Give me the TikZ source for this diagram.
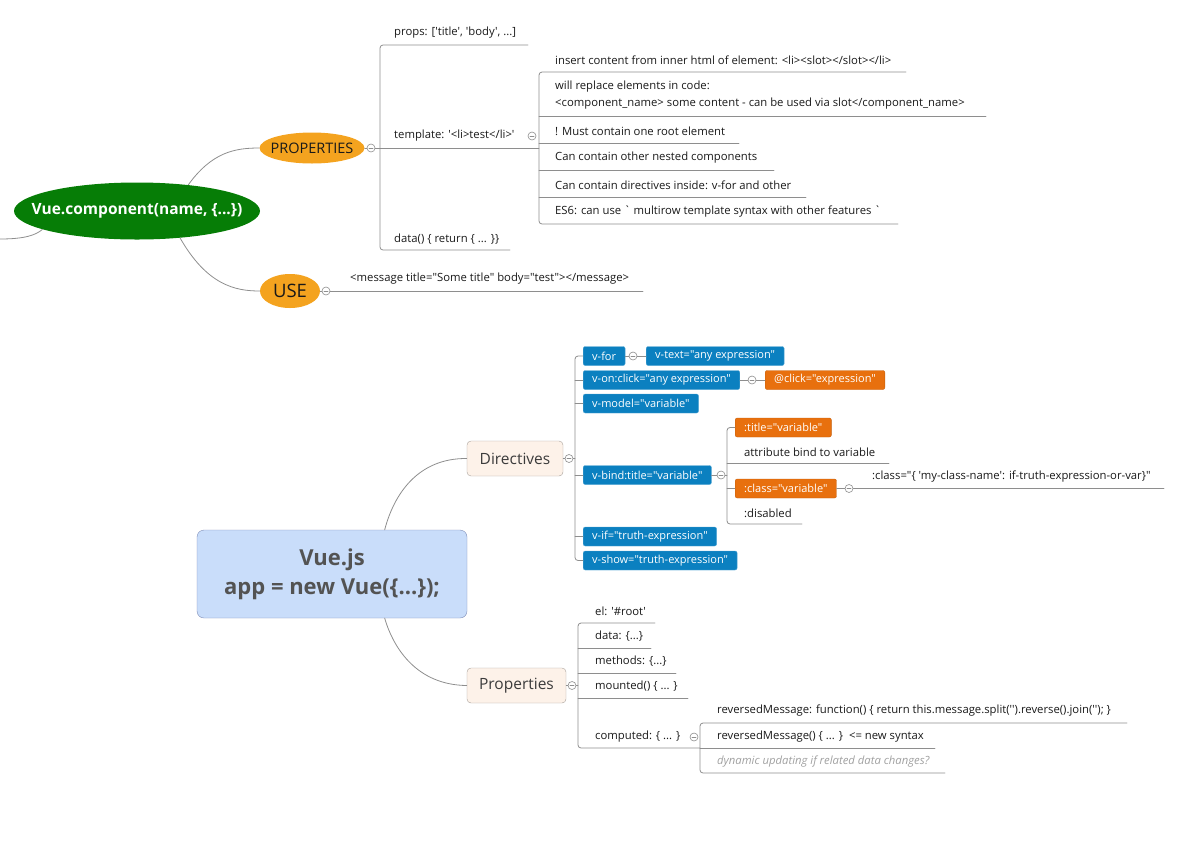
\documentclass[tikz,border=0pt]{standalone}
\usepackage{fontspec}
\setmainfont{Open Sans}[Ligatures=TeXOff]
\usetikzlibrary{shapes.geometric}
\definecolor{vgreen}{RGB}{6,125,6}
\definecolor{vorange}{RGB}{244,163,31}
\definecolor{vblue}{RGB}{11,128,192}
\definecolor{vred}{RGB}{232,112,14}
\definecolor{appfill}{RGB}{201,221,250}
\definecolor{appline}{RGB}{125,139,181}
\definecolor{peach}{RGB}{253,242,233}
\definecolor{peachline}{RGB}{167,160,154}
\definecolor{wire}{RGB}{142,142,142}
\definecolor{ink}{RGB}{25,25,25}
\definecolor{hint}{RGB}{160,160,160}
\tikzset{
  branch/.style={draw=wire,line width=0.8pt},
  fold/.style={circle,draw=wire,fill=white,inner sep=0pt,minimum size=8pt,line width=0.6pt,
    path picture={\draw[wire,line width=0.6pt] ([xshift=-2pt]path picture bounding box.center) -- ([xshift=2pt]path picture bounding box.center);}},
  topic/.style={anchor=west,inner sep=0pt,text=ink,font=\fontsize{11.3}{17}\selectfont},
  oval/.style={ellipse,fill=vorange,inner sep=0pt,text=ink},
  vdir/.style={anchor=west,draw=vblue!70!white,fill=vblue,text=white,rounded corners=2pt,
    minimum height=19pt,inner xsep=9pt,inner ysep=0pt,font=\fontsize{11}{12}\selectfont},
  vshort/.style={vdir,draw=vred!85!black,fill=vred},
  group/.style={draw=peachline,fill=peach,rounded corners=4pt,minimum height=35pt,
    text=ink!85,font=\fontsize{15.5}{18}\selectfont}
}
\newcommand\nowidth[1]{\makebox[0pt]{#1}}
\begin{document}
\begin{tikzpicture}[x=1pt,y=-1pt,line cap=round]
\useasboundingbox (0,0) rectangle (1177,852);
% Vue.component branch
\node[ellipse,fill=vgreen,text=white,inner sep=0pt,minimum width=246pt,minimum height=57pt,
  font=\bfseries\fontsize{15.5}{18}\selectfont] (comp) at (137,211) {\nowidth{Vue.component(name, \{...\})}};
\node[oval,minimum width=105pt,minimum height=31pt,font=\fontsize{14.5}{17}\selectfont] (props) at (312,148) {\nowidth{PROPERTIES}};
\node[oval,minimum width=60pt,minimum height=34pt,font=\fontsize{18.5}{21}\selectfont] (use) at (290,291) {\nowidth{USE}};
\coordinate (off) at (0,239);
\draw[branch] (off) .. controls (25,239) and (36,235) .. (comp.191);
\draw[branch] (comp.27) .. controls (212,152) and (235,148) .. (props.west);
\draw[branch] (comp.-32) .. controls (207,285) and (235,291) .. (use.west);

\node[topic] (pp) at (394,33) {props: ['title', 'body', ...]};
\node[topic] (tpl) at (394,136) {template: '<li>test</li>'};
\node[topic] (dat) at (394,239) {data() \{ return \{ ... \}\}};
\draw[branch,rounded corners=3pt] (528,45) -- (380,45) -- (380,250) -- (510,250);
\draw[branch] (props.east) -- (539,148);

\node[topic] (t1) at (555,60) {insert content from inner html of element: <li><slot></slot></li>};
\node[topic,align=left] (t2) at (555,95.5) {will replace elements in code:\\<component\_name> some content - can be used via slot</component\_name>};
\node[topic] (t3) at (555,131) {! Must contain one root element};
\node[topic] (t4) at (555,158) {Can contain other nested components};
\node[topic] (t5) at (555,185) {Can contain directives inside: v-for and other};
\node[topic] (t6) at (555,212) {ES6: can use ` multirow template syntax with other features `};
\draw[branch,rounded corners=3pt] (906,72) -- (539,72) -- (539,224) -- (898,224);
\foreach \y/\e in {116/986,143/739,170/774,197/806}
  \draw[branch] (539,\y) -- (\e,\y);

\node[topic] (msg) at (350,279) {<message title="Some title" body="test"></message>};
\draw[branch] (use.east) -- (643,291);
\node[fold] (f1) at (371,148) {};
\node[fold] (f2) at (532,136) {};
\node[fold] (f3) at (326,291) {};

% Vue.js app
\node[draw=appline,fill=appfill,rounded corners=7pt,minimum width=270pt,minimum height=88pt,
  align=center,text=ink!75,font=\bfseries\fontsize{22}{29}\selectfont] (app) at (332,574) {Vue.js\\app = new Vue(\{...\});};
\node[group,minimum width=96pt] (dirs) at (515,458.5) {\nowidth{Directives}};
\node[group,minimum width=99pt] (bprops) at (516.5,685.5) {\nowidth{Properties}};
\draw[branch] (app.40) .. controls (394,494) and (418,458) .. (dirs.west);
\draw[branch] (app.-40) .. controls (394,650) and (418,685) .. (bprops.west);

% directives
\coordinate (brx) at (575,0);
\node[vdir] (vfor) at (583,356) {v-for};
\node[vdir] (vtext) at (646,356) {v-text="any expression"};
\node[vdir] (von) at (583,380) {v-on:click="any expression"};
\node[vshort] (click) at (765,380) {@click="expression"};
\node[vdir] (vmodel) at (583,403.5) {v-model="variable"};
\node[vdir] (vbind) at (583,475) {v-bind:title="variable"};
\node[vdir] (vif) at (583,536.5) {v-if="truth-expression"};
\node[vdir] (vshow) at (583,560.5) {v-show="truth-expression"};
\draw[branch,rounded corners=3pt] (vfor.west) -- (vfor.west -| brx) -- (vshow.west -| brx) -- (vshow.west);
\foreach \n in {von,vmodel,vbind,vif}
  \draw[branch] (\n.west -| brx) -- (\n.west);
\draw[branch] (dirs.east) -- (dirs.east -| brx);
\draw[branch] (vfor.east) -- (vtext.west);
\draw[branch] (von.east) -- (click.west);

% v-bind
\coordinate (bbx) at (727,0);
\node[vshort] (title) at (735,427.5) {:title="variable"};
\node[topic] (attr) at (744,452) {attribute bind to variable};
\node[vshort] (class) at (735,488.5) {:class="variable"};
\node[topic] (dis) at (744,513) {:disabled};
\draw[branch,rounded corners=3pt] (title.west) -- (title.west -| bbx) -- (727,524) -- (802,524);
\draw[branch] (727,463) -- (889,463);
\draw[branch] (class.west -| bbx) -- (class.west);
\draw[branch] (vbind.east) -- (vbind.east -| bbx);
\node[topic] (cls) at (872,477) {:class="\{ 'my-class-name': if-truth-expression-or-var\}"};
\draw[branch] (class.east) -- (1164,488.5);

% properties
\node[topic] (el) at (595,611) {el: '\#root'};
\node[topic] (pdat) at (595,636) {data: \{...\}};
\node[topic] (meth) at (595,661) {methods: \{...\}};
\node[topic] (mnt) at (595,686) {mounted() \{ ... \}};
\node[topic] (cmp) at (595,737) {computed: \{ ... \}};
\draw[branch] (bprops.east) -- (578,685.5);
\draw[branch,rounded corners=3pt] (655,623) -- (578,623) -- (578,748) -- (700,748);
\foreach \y/\e in {648/651,673/676,698/688}
  \draw[branch] (578,\y) -- (\e,\y);

\node[topic] (rm1) at (717,711) {reversedMessage: function() \{ return this.message.split('').reverse().join(''); \}};
\node[topic] (rm2) at (717,737) {reversedMessage() \{ ... \}\ \ <= new syntax};
\node[topic,text=hint,font=\itshape\fontsize{11.3}{17}\selectfont] (dyn) at (717,762) {dynamic updating if related data changes?};
\draw[branch,rounded corners=3pt] (1127,723) -- (700,723) -- (700,773) -- (945,773);
\draw[branch] (700,748) -- (935,748);

\node[fold] (g1) at (633,356) {};
\node[fold] (g2) at (752,380) {};
\node[fold] (g3) at (569,458.5) {};
\node[fold] (g4) at (721,475) {};
\node[fold] (g5) at (849,488.5) {};
\node[fold] (g6) at (572,685.5) {};
\node[fold] (g7) at (694,737) {};
\end{tikzpicture}
\end{document}
